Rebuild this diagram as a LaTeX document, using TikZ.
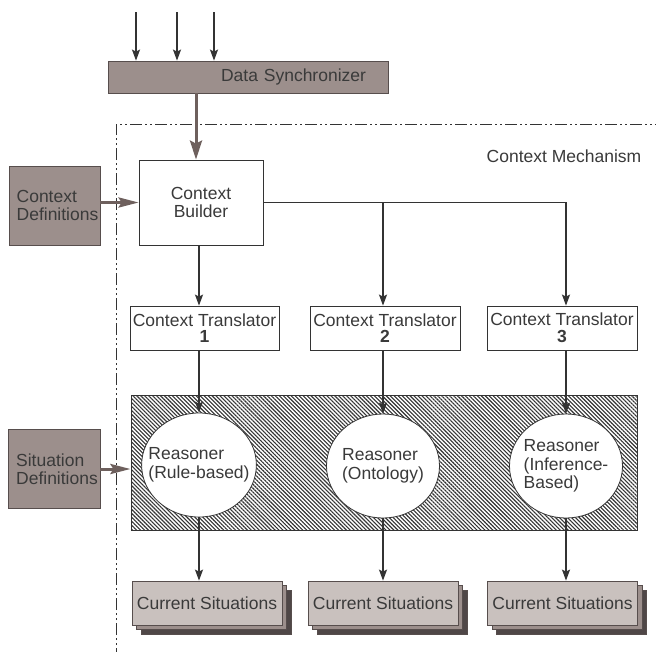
\documentclass[tikz,border=0pt]{standalone}
\usepackage{fontspec}
\setmainfont{Liberation Sans}
\usetikzlibrary{arrows.meta,patterns.meta,shapes.geometric,shadows}

\definecolor{taupe}{HTML}{9C8F8C}
\definecolor{pale}{HTML}{C9C1BE}
\definecolor{deep}{HTML}{4F4747}
\definecolor{ink}{HTML}{333333}
\definecolor{rim}{HTML}{574E4D}
\definecolor{brownarrow}{HTML}{6E605D}
\definecolor{txt}{HTML}{3A3A3A}

\tikzset{
  every node/.style={font=\fontsize{17.5}{18.5}\selectfont, text=txt, inner sep=0pt},
  plainbox/.style={draw=ink, line width=0.8pt, fill=white},
  taupebox/.style={draw=rim, line width=0.8pt, fill=taupe},
  reasoner/.style={ellipse, draw=ink, line width=0.8pt, fill=white, inner xsep=-10pt,
    minimum width=113pt, minimum height=104pt, align=left},
  stackbox/.style={draw=rim, line width=0.8pt, fill=pale,
    minimum width=150pt, minimum height=44pt,
    general shadow={fill=deep, draw=rim, line width=0.8pt, shadow xshift=9pt, shadow yshift=-9pt},
    general shadow={fill=taupe, draw=rim, line width=0.8pt, shadow xshift=4.5pt, shadow yshift=-4.5pt}},
  dk/.style={draw=ink, line width=1.6pt, -{Stealth[length=11pt,width=8pt,inset=2pt]}},
  br/.style={draw=brownarrow, line width=3pt, -{Stealth[length=19pt,width=12pt,inset=3pt]}},
  brs/.style={draw=brownarrow, line width=3pt, -{Stealth[length=20pt,width=10pt,inset=3pt]}},
  frame/.style={draw=ink, line width=0.8pt, dash pattern=on 12pt off 3pt on 2pt off 3pt on 2pt off 3pt},
}

\begin{document}
\begin{tikzpicture}[x=1pt,y=-1pt]
\useasboundingbox[fill=white] (0,0) rectangle (656,651);

% boundary of the context mechanism
\coordinate (framecorner) at (116,124);
\coordinate (framebottom) at (116,660);
\coordinate (frameright) at (660,124);
\draw[frame] (framebottom) -- (framecorner) -- (frameright);
\node (mech) at (564,156) {Context Mechanism};

% data synchronizer and its inputs
\node[taupebox, minimum width=280pt, minimum height=32pt, text width=236pt, align=right]
  (sync) at (248,77) {Data Synchronizer};
\coordinate (in1) at (136,12);
\coordinate (in2) at (177,12);
\coordinate (in3) at (214,12);
\draw[dk] (in1) -- (in1 |- sync.north);
\draw[dk] (in2) -- (in2 |- sync.north);
\draw[dk] (in3) -- (in3 |- sync.north);

% definitions
\node[taupebox, minimum width=91pt, minimum height=79pt, align=left]
  (cdef) at (54.5,205.5) {\hspace*{6pt}Context\\\hspace*{6pt}Definitions};
\node[taupebox, minimum width=92pt, minimum height=79pt, align=left]
  (sdef) at (54,469) {\hspace*{6pt}Situation\\\hspace*{6pt}Definitions};

% context builder
\node[plainbox, minimum width=124pt, minimum height=85pt, align=center]
  (builder) at (201,202.5) {Context\\Builder};

% translators
\node[plainbox, minimum width=149pt, minimum height=44pt, align=center]
  (t1) at (204.5,328) {Context Translator\\[-2pt]\textbf{1}};
\node[plainbox, minimum width=150pt, minimum height=44pt, align=center]
  (t2) at (385,328) {Context Translator\\[-2pt]\textbf{2}};
\node[plainbox, minimum width=150pt, minimum height=44pt, align=center]
  (t3) at (562,328) {Context Translator\\[-2pt]\textbf{3}};

% hatched reasoning area
\node[draw=ink, line width=0.8pt, pattern={Lines[angle=-45,distance=2.8pt,line width=1.1pt]},
  pattern color=ink, minimum width=506pt, minimum height=135pt] (area) at (384,462.5) {};

% reasoners
\node[reasoner] (e1) at (199,465) {Reasoner\\(Rule-based)};
\node[reasoner] (e2) at (383,466) {Reasoner\\(Ontology)};
\node[reasoner] (e3) at (566,466) {Reasoner\\(Inference-\\Based)};

% outputs
\node[stackbox] (cs1) at (207,603) {Current Situations};
\node[stackbox] (cs2) at (383,603) {Current Situations};
\node[stackbox] (cs3) at (562.5,603) {Current Situations};

% flows
\draw[br] ([xshift=-5pt]sync.south -| builder.north) -- ([xshift=-5pt]builder.north);
\draw[brs] (cdef.east |- builder.west) -- (builder.west);
\draw[brs] (sdef.east) -- (area.west |- sdef.east);

\draw[dk] (builder.south -| e1.north) -- (t1.north -| e1.north);
\draw[dk] (builder.east) -| (t3.north -| e3.north);
\draw[dk] (builder.east -| e2.north) -- (t2.north -| e2.north);

\draw[dk] (t1.south -| e1.north) -- (e1.north);
\draw[dk] (t2.south -| e2.north) -- (e2.north);
\draw[dk] (t3.south -| e3.north) -- (e3.north);

\draw[dk] (e1.south) -- (cs1.north -| e1.south);
\draw[dk] (e2.south) -- (cs2.north -| e2.south);
\draw[dk] (e3.south) -- (cs3.north -| e3.south);
\end{tikzpicture}
\end{document}
